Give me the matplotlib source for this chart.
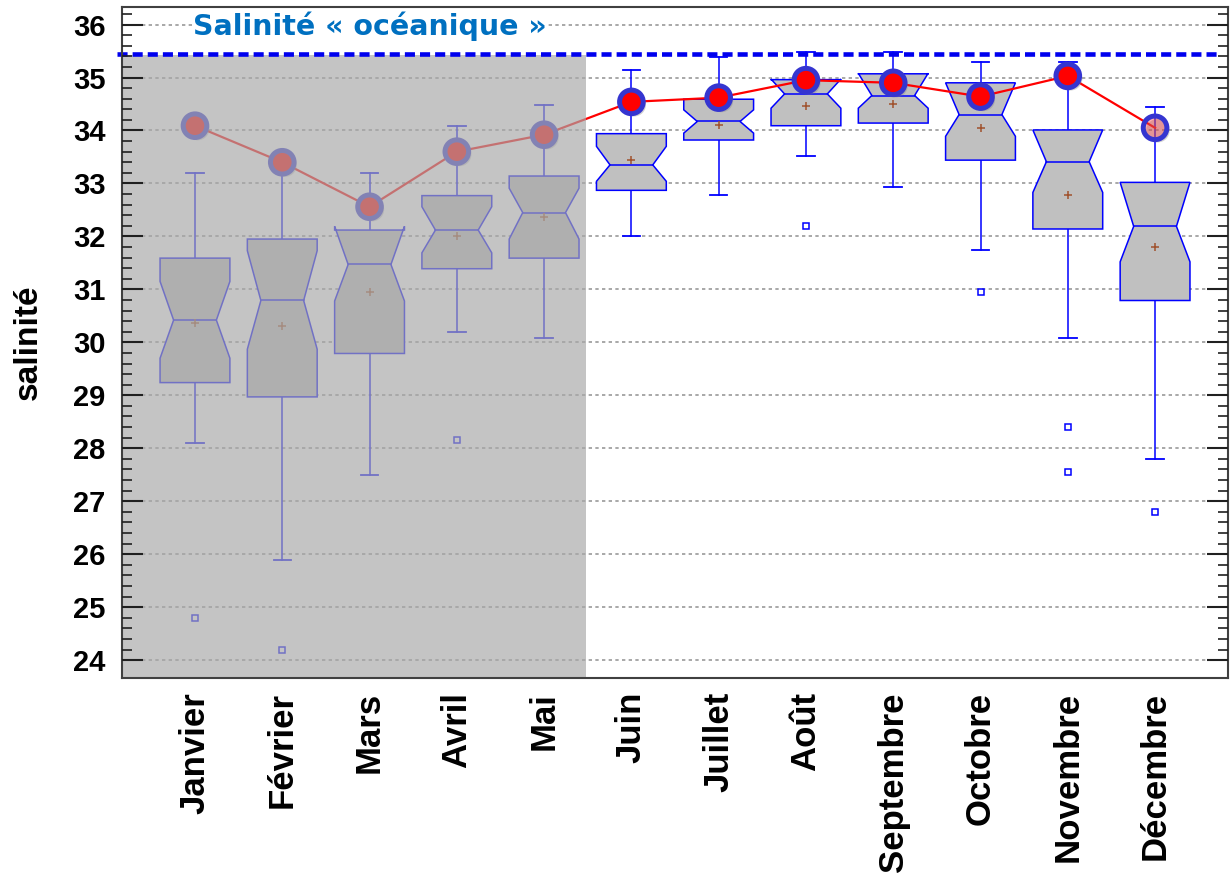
import matplotlib.pyplot as plt
import matplotlib.patheffects as pe

plt.rcParams['font.family'] = ['Liberation Sans', 'DejaVu Sans']

months = ['Janvier', 'Février', 'Mars', 'Avril', 'Mai', 'Juin', 'Juillet',
          'Août', 'Septembre', 'Octobre', 'Novembre', 'Décembre']

# box statistics
whishi = [33.19, 33.40, 33.19, 34.09, 34.49, 35.14, 35.39, 35.48, 35.48, 35.29, 35.29, 34.44]
q3 = [31.59, 31.95, 32.12, 32.77, 33.14, 33.94, 34.59, 34.96, 35.07, 34.90, 34.01, 33.02]
cihi = [31.15, 31.73, 32.19, 32.56, 32.91, 33.70, 34.39, 34.97, 35.08, 34.90, 34.01, 33.02]
med = [30.42, 30.79, 31.47, 32.12, 32.45, 33.35, 34.17, 34.69, 34.66, 34.30, 33.41, 32.19]
cilo = [29.70, 29.87, 30.78, 31.69, 31.95, 33.04, 33.95, 34.42, 34.42, 33.89, 32.83, 31.52]
q1 = [29.24, 28.97, 29.79, 31.39, 31.59, 32.87, 33.82, 34.09, 34.14, 33.44, 32.14, 30.79]
whislo = [28.10, 25.90, 27.49, 30.19, 30.09, 32.00, 32.79, 33.52, 32.94, 31.74, 30.09, 27.79]
means = [30.36, 30.30, 30.95, 32.00, 32.36, 33.44, 34.11, 34.47, 34.50, 34.04, 32.79, 31.80]
fliers = [[24.80], [24.20], [], [28.15], [], [], [], [32.19], [], [30.95], [28.40, 27.55], [26.80]]

# red points (one value per month)
points = [34.09, 33.40, 32.56, 33.60, 33.92, 34.54, 34.62, 34.95, 34.90, 34.64, 35.03, 34.05]

oceanic = 35.45
shade_end = 5.48

blue = '#0000ff'
box_face = '#c0c0c0'

fig = plt.figure(figsize=(12.3, 8.83), dpi=100)
ax = fig.add_axes([0.0992, 0.232, 0.8992, 0.760])
x_min, x_max = 0.164, 12.836
y_min, y_max = 23.66, 36.33
ax.set_xlim(x_min, x_max)
ax.set_ylim(y_min, y_max)

# dotted grid
for v in range(24, 37):
    ax.axhline(v, color='#9a9a9a', lw=1.2, ls=(0, (2, 2)), zorder=0.6)

box_w = 0.8
notch_w = 0.49
cap_w = 0.2
pos = list(range(1, len(months) + 1))
for i, p in enumerate(pos):
    bl, br = p - box_w / 2, p + box_w / 2
    nl, nr = p - notch_w / 2, p + notch_w / 2
    xs = [bl, br, br, nr, br, br, bl, bl, nl, bl, bl]
    ys = [q1[i], q1[i], cilo[i], med[i], cihi[i], q3[i], q3[i], cihi[i], med[i], cilo[i], q1[i]]
    ax.fill(xs, ys, facecolor=box_face, edgecolor=blue, lw=1.1, zorder=2.0)
    ax.plot([nl, nr], [med[i], med[i]], color=blue, lw=1.1, zorder=2.05)
    ax.plot([p, p], [q3[i], whishi[i]], color=blue, lw=1.1, zorder=1.9)
    ax.plot([p, p], [whislo[i], q1[i]], color=blue, lw=1.1, zorder=1.9)
    for w in (whishi[i], whislo[i]):
        ax.plot([p - cap_w / 2, p + cap_w / 2], [w, w], color=blue, lw=1.3, zorder=1.9)
    if fliers[i]:
        ax.plot([p] * len(fliers[i]), fliers[i], 's', ms=4, mfc='none', mec=blue,
                mew=1.1, zorder=2.0)

ax.plot(pos, means, '+', color='#a0522d', ms=6, mew=1.1, zorder=2.06)

# red points and connecting line
ax.plot(pos, points, color='red', lw=1.6, zorder=2.1)
shadow = [pe.SimplePatchShadow(offset=(2, -2), shadow_rgbFace='#808080', alpha=0.35),
          pe.Normal()]
ax.plot(pos[:-1], points[:-1], 'o', ms=17, mfc='red', mec='#3535d0', mew=3.6,
        zorder=2.2, path_effects=shadow)
ax.plot(pos[-1:], points[-1:], 'o', ms=17, mfc=(1, 0.2, 0.2, 0.38), mec='#3535d0',
        mew=3.6, zorder=2.2, path_effects=shadow)

# oceanic salinity reference line
ax.plot([x_min - 0.06, 12.74], [oceanic, oceanic], color='#0000ee', lw=3.3,
        dashes=(2.2, 1.1), zorder=2.45, clip_on=False)
ax.text(0.98, 35.97, 'Salinité « océanique »', color='#0070c0', fontsize=20.5,
        fontweight='bold', family='DejaVu Sans', ha='left', va='center', zorder=3,
        bbox=dict(facecolor='white', edgecolor='none', pad=1))

# grey veil over January-May
ax.fill([x_min, shade_end, shade_end, x_min], [y_min, y_min, oceanic - 0.02, oceanic - 0.02],
        facecolor='#a8a8a8', edgecolor='none', alpha=0.68, zorder=2.4)

ax.set_axisbelow(False)
ax.set_yticks(range(24, 37))
ax.set_yticks([24 + k * 0.2 for k in range(62)], minor=True)
ax.tick_params(axis='y', which='major', direction='in', left=True, right=True,
               length=15, width=1.5, color='#202020', labelsize=21, pad=12)
ax.tick_params(axis='y', which='minor', direction='in', left=True, right=True,
               length=7.5, width=1.2, color='#202020')
for lab in ax.get_yticklabels():
    lab.set_fontweight('bold')

ax.set_xticks(pos)
ax.set_xticklabels(months, rotation=90, fontsize=25, fontweight='bold')
ax.tick_params(axis='x', length=0, pad=10)

for s in ax.spines.values():
    s.set_color('#404040')
    s.set_linewidth(1.5)

ax.set_ylabel('salinité', fontsize=24, fontweight='bold')
ax.yaxis.set_label_coords(-0.071, 0.5)

fig.savefig('out.png', dpi=100)
